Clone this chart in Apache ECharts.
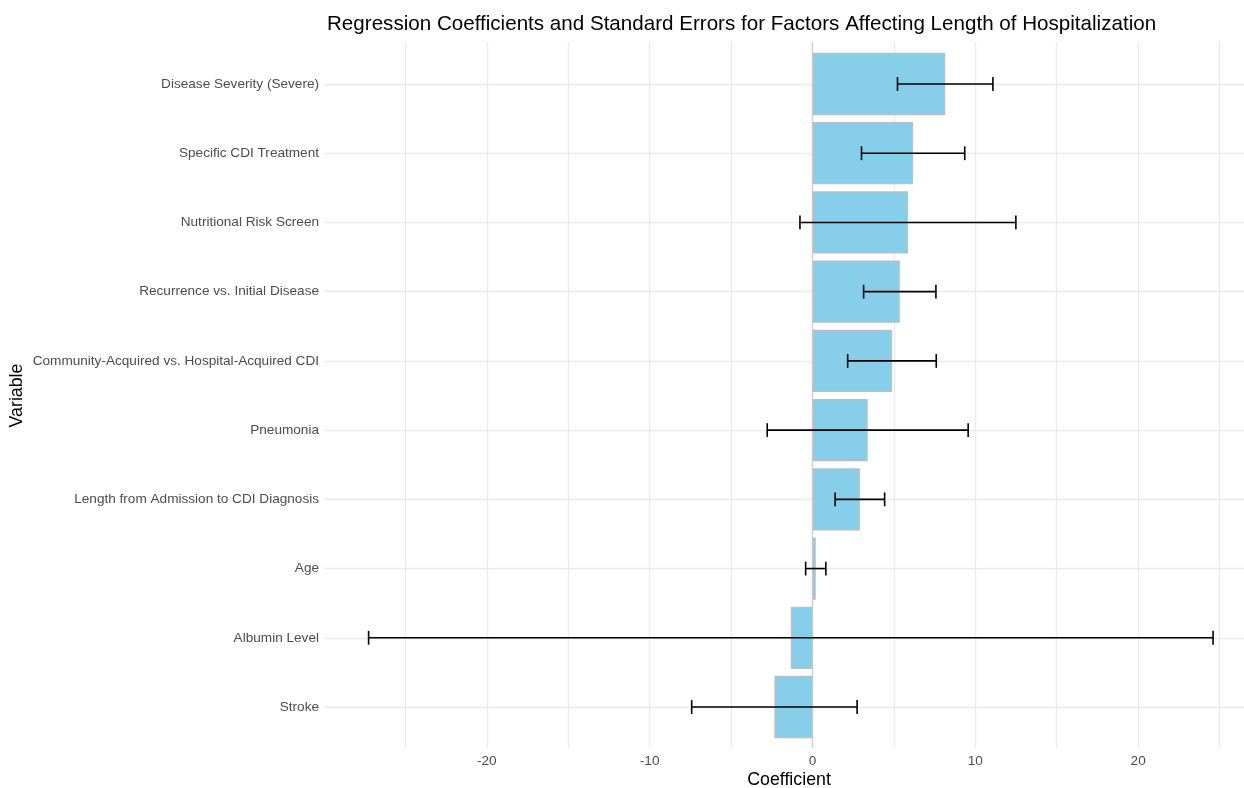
<!DOCTYPE html>
<html>
<head>
<meta charset="utf-8">
<script src="https://cdn.jsdelivr.net/npm/echarts@6/dist/echarts.min.js"></script>
<style>
  html, body { margin: 0; padding: 0; background: #fff; }
  #chart { width: 1244px; height: 788px; }
</style>
</head>
<body>
<div id="chart"></div>
<script>
// Model terms, listed top to bottom
const variables = [
  'Disease Severity (Severe)',
  'Specific CDI Treatment',
  'Nutritional Risk Screen',
  'Recurrence vs. Initial Disease',
  'Community-Acquired vs. Hospital-Acquired CDI',
  'Pneumonia',
  'Length from Admission to CDI Diagnosis',
  'Age',
  'Albumin Level',
  'Stroke'
];
// Regression coefficients
const coefficients = [8.15, 6.18, 5.86, 5.36, 4.88, 3.39, 2.91, 0.20, -1.33, -2.34];
// Standard errors
const standardErrors = [2.93, 3.17, 6.63, 2.22, 2.72, 6.17, 1.52, 0.62, 25.93, 5.08];
// Coefficient axis
const xMin = -30;
const xMax = 26.5;
const xStep = 5;
const xLabelStep = 10;

const FONT = '"Liberation Sans", Arial, sans-serif';

const errorData = coefficients.map((c, i) => [i, c - standardErrors[i], c + standardErrors[i]]);

const chart = echarts.init(document.getElementById('chart'), null, { renderer: 'canvas' });

const panelLeft = 324, panelWidth = 920;
const gridLine = { color: '#ebebeb', width: 1.3 };

chart.setOption({
  animation: false,
  backgroundColor: '#ffffff',
  textStyle: { fontFamily: FONT },
  title: {
    text: 'Regression Coefficients and Standard Errors for Factors Affecting Length of Hospitalization',
    left: 322,
    top: 9,
    textStyle: { fontFamily: FONT, fontSize: 20.6, fontWeight: 'normal', color: '#000' }
  },
  grid: [
    // full panel: vertical grid lines, tick labels, zero line
    { left: panelLeft, width: panelWidth, top: 42, height: 706, containLabel: false, outerBoundsMode: 'none' },
    // rows: bars and error bars, one row per term
    { left: panelLeft, width: panelWidth, top: 84, height: 623, containLabel: false, outerBoundsMode: 'none' }
  ],
  xAxis: [
    {
      gridIndex: 0,
      type: 'value',
      min: xMin,
      max: xMax,
      interval: xStep,
      axisLine: { show: false },
      axisTick: { show: false },
      splitLine: { show: true, showMinLine: false, showMaxLine: false, lineStyle: gridLine },
      axisLabel: {
        margin: 6,
        fontSize: 13.6,
        color: '#4d4d4d',
        fontFamily: FONT,
        formatter: v => (v % xLabelStep === 0 && v > xMin && v < xMax) ? String(v) : ''
      },
      name: 'Coefficient',
      nameLocation: 'middle',
      nameGap: 23,
      nameMoveOverlap: false,
      nameTextStyle: { fontSize: 17.8, color: '#000', fontFamily: FONT, padding: [0, 0, 0, 10] }
    },
    {
      gridIndex: 1,
      type: 'value',
      min: xMin,
      max: xMax,
      interval: xStep,
      show: false,
      splitLine: { show: false }
    }
  ],
  yAxis: [
    {
      gridIndex: 0,
      type: 'value',
      min: 0,
      max: 1,
      show: false,
      splitLine: { show: false }
    },
    {
      gridIndex: 1,
      type: 'category',
      data: variables,
      inverse: true,
      boundaryGap: false,
      axisLine: { show: false },
      axisTick: { show: false },
      splitLine: { show: true, lineStyle: gridLine },
      axisLabel: { margin: 5, fontSize: 13.6, color: '#4d4d4d', fontFamily: FONT },
      name: 'Variable',
      nameLocation: 'middle',
      nameRotate: 90,
      nameGap: 298,
      nameMoveOverlap: false,
      nameTextStyle: { fontSize: 17.8, color: '#000', fontFamily: FONT }
    }
  ],
  series: [
    {
      // zero reference line across the panel
      type: 'line',
      xAxisIndex: 0,
      yAxisIndex: 0,
      data: [[0, 0], [0, 1]],
      symbol: 'none',
      silent: true,
      z: 1,
      lineStyle: { color: '#d0d0d0', width: 1.3 }
    },
    {
      type: 'bar',
      xAxisIndex: 1,
      yAxisIndex: 1,
      data: coefficients,
      barWidth: '90%',
      clip: false,
      z: 2,
      itemStyle: { color: '#87CEEB', borderColor: '#bebebe', borderWidth: 1.2 }
    },
    {
      type: 'custom',
      xAxisIndex: 1,
      yAxisIndex: 1,
      data: errorData,
      clip: false,
      z: 3,
      encode: { y: 0, x: [1, 2] },
      renderItem: function (params, api) {
        const row = api.value(0);
        const lo = api.coord([api.value(1), row]);
        const hi = api.coord([api.value(2), row]);
        const half = api.size([0, 1])[1] * 0.1;
        const style = { stroke: '#000', lineWidth: 1.6, fill: null };
        return {
          type: 'group',
          children: [
            { type: 'line', shape: { x1: lo[0], y1: lo[1], x2: hi[0], y2: hi[1] }, style },
            { type: 'line', shape: { x1: lo[0], y1: lo[1] - half, x2: lo[0], y2: lo[1] + half }, style },
            { type: 'line', shape: { x1: hi[0], y1: hi[1] - half, x2: hi[0], y2: hi[1] + half }, style }
          ]
        };
      }
    }
  ]
});
</script>
</body>
</html>
